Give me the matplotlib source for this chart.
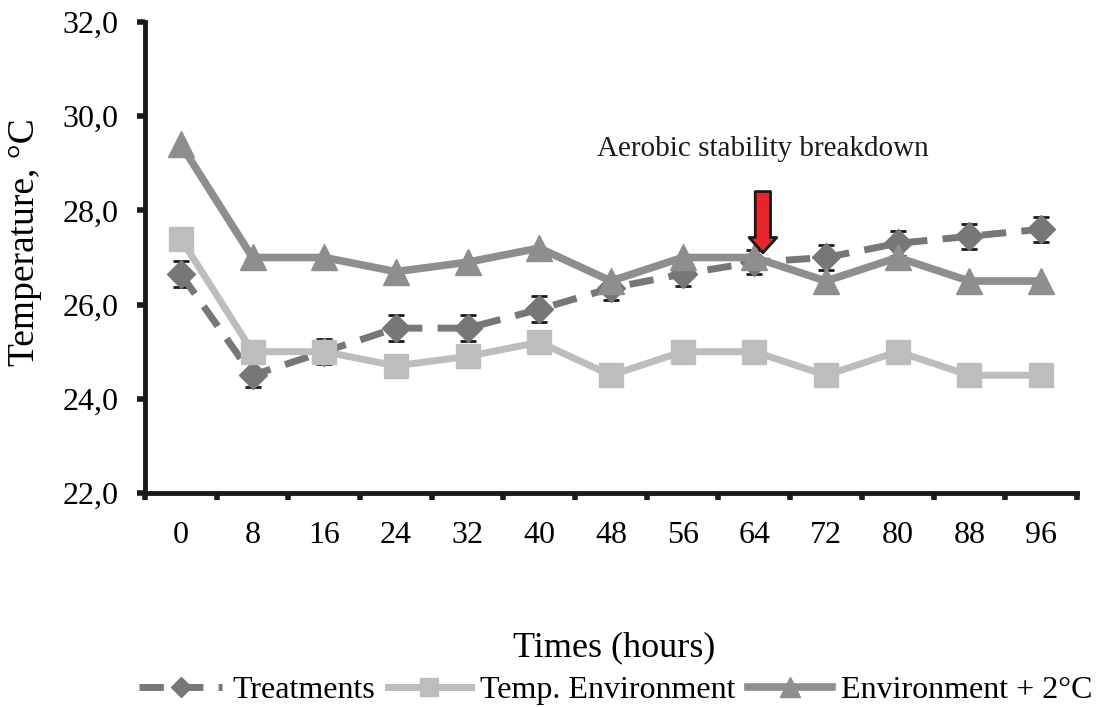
import matplotlib
matplotlib.use("Agg")
import matplotlib.pyplot as plt
import numpy as np

# --- data ---
hours = ["0", "8", "16", "24", "32", "40", "48", "56", "64", "72", "80", "88", "96"]
treatments = [26.65, 24.5, 25.0, 25.5, 25.5, 25.9, 26.35, 26.65, 26.9, 27.0, 27.3, 27.45, 27.6]
treatments_err = [0.28, 0.25, 0.27, 0.27, 0.27, 0.28, 0.25, 0.25, 0.25, 0.27, 0.27, 0.27, 0.27]
temp_env = [27.4, 25.0, 25.0, 24.7, 24.9, 25.2, 24.5, 25.0, 25.0, 24.5, 25.0, 24.5, 24.5]
env_plus2 = [29.4, 27.0, 27.0, 26.7, 26.9, 27.2, 26.5, 27.0, 27.0, 26.5, 27.0, 26.5, 26.5]
yticks = [22.0, 24.0, 26.0, 28.0, 30.0, 32.0]
ytick_labels = ["22,0", "24,0", "26,0", "28,0", "30,0", "32,0"]

plt.rcParams["font.family"] = ["Liberation Serif", "DejaVu Serif"]

fig = plt.figure(figsize=(11, 7.07), dpi=100)
ax = fig.add_axes([0.1318, 0.3027, 0.979 - 0.1318, 0.9689 - 0.3027])

x = np.arange(len(hours))

ax.errorbar(x, treatments, yerr=treatments_err, fmt="none", ecolor="#1a1a1a",
            elinewidth=1.5, capsize=6, capthick=2, zorder=2)
ax.plot(x, treatments, color="#77777a", linestyle=(0, (3.5, 2.2)), linewidth=5,
        marker="D", markersize=14, markerfacecolor="#77777a",
        markeredgecolor="#77777a", label="Treatments", zorder=3)
ax.plot(x, temp_env, color="#bdbdc0", linewidth=5, marker="s", markersize=17,
        markeredgecolor="#bdbdc0", label="Temp. Environment", zorder=4)
ax.plot(x, env_plus2, color="#8e8e91", linewidth=5.5, marker="^", markersize=19,
        markeredgecolor="#8e8e91", label="Environment + 2°C", zorder=5)

# arrow + annotation
ax.annotate("", xy=(8.12, 27.1), xytext=(8.12, 28.4),
            arrowprops=dict(arrowstyle="simple,head_width=2.0,head_length=1.1,tail_width=1.1",
                            facecolor="#e8262a", edgecolor="#1a1a1a", linewidth=2,
                            shrinkA=0, shrinkB=0), zorder=6)
ax.text(8.12, 29.3, "Aerobic stability breakdown", ha="center", va="center",
        fontsize=21, color="#1a1a1a")

ax.set_xlim(-0.5, len(hours) - 0.5)
ax.set_ylim(22, 32)
ax.set_yticks(yticks)
ax.set_yticklabels(ytick_labels, fontsize=23)
ax.set_xticks(np.arange(-0.5, len(hours), 1.0))
ax.set_xticklabels([])
ax.set_xticks(x, minor=True)
ax.set_xticklabels(hours, minor=True, fontsize=23)
ax.tick_params(axis="x", which="minor", length=0, pad=20)
ax.tick_params(axis="x", which="major", direction="out", length=5, width=4, color="#1a1a1a")
ax.tick_params(axis="y", direction="out", length=6, width=4, color="#1a1a1a", pad=13)

for side in ["top", "right"]:
    ax.spines[side].set_visible(False)
for side in ["left", "bottom"]:
    ax.spines[side].set_linewidth(3.5)
    ax.spines[side].set_color("#1a1a1a")

ax.set_ylabel("Temperature, °C", fontsize=27)
ax.yaxis.set_label_coords(-0.111, 0.533)
fig.text(0.558, 0.083, "Times (hours)", ha="center", va="center", fontsize=26)

fig.legend(loc="center", bbox_to_anchor=(0.56, 0.024), ncol=3, frameon=False,
           fontsize=23, handlelength=2.6, handletextpad=0.3, columnspacing=0.4,
           markerscale=0.75, borderpad=0)

fig.savefig("out.png", dpi=100)
